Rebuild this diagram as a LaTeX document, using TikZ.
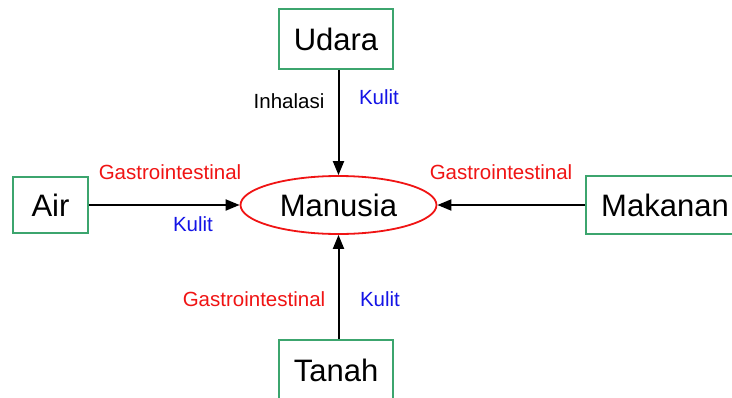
\documentclass[tikz,border=0pt]{standalone}
\usepackage{fontspec}
\setmainfont{Liberation Sans}
\usetikzlibrary{shapes.geometric,arrows.meta}
\definecolor{boxgreen}{RGB}{60,165,110}
\definecolor{lblblue}{RGB}{20,20,230}
\definecolor{lblred}{RGB}{240,20,20}
\begin{document}
\begin{tikzpicture}[x=1pt,y=-1pt,
  src/.style={draw=boxgreen,line width=1.6pt,fill=white,inner sep=0pt,font=\fontsize{31}{33}\selectfont},
  hub/.style={ellipse,draw=lblred,line width=1.8pt,inner sep=0pt,minimum width=196pt,minimum height=58pt,font=\fontsize{31}{33}\selectfont},
  flow/.style={line width=2pt,-{Triangle[length=14pt,width=11pt]}},
  lbl/.style={inner sep=0pt,font=\fontsize{20.5}{22}\selectfont}]
\useasboundingbox (0,0) rectangle (732,397);
\clip (0,0) rectangle (732,397);
\fill[white] (0,0) rectangle (732,397);
\node[hub] (m) at (338.5,205) {Manusia};
\node[src,minimum width=114pt,minimum height=60pt] (u) at (336,39) {Udara};
\node[src,minimum width=75pt,minimum height=56pt] (a) at (50.5,205) {Air};
\node[src,minimum width=158pt,minimum height=58pt] (k) at (665,205) {Makanan};
\node[src,minimum width=114pt,minimum height=60pt] (t) at (336,370) {Tanah};
\draw[flow] (u.south -| m.north) -- (m.north);
\draw[flow] (t.north -| m.south) -- (m.south);
\draw[flow] (a.east) -- (m.west);
\draw[flow] (k.west) -- (m.east);
\node[lbl] (l1) at (289,101) {Inhalasi};
\node[lbl,text=lblblue] (l2) at (379,97) {Kulit};
\node[lbl,text=lblred] (l3) at (170,172) {Gastrointestinal};
\node[lbl,text=lblblue] (l4) at (193,224) {Kulit};
\node[lbl,text=lblred] (l5) at (501,172) {Gastrointestinal};
\node[lbl,text=lblred] (l6) at (254,299) {Gastrointestinal};
\node[lbl,text=lblblue] (l7) at (380,299) {Kulit};
\end{tikzpicture}
\end{document}
